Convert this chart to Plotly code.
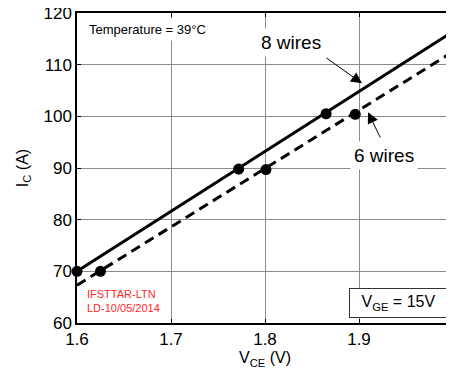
import plotly.graph_objects as go

# Measured points
vce_8 = [1.600, 1.772, 1.865]
ic_8 = [70.0, 89.8, 100.5]
vce_6 = [1.625, 1.801, 1.896]
ic_6 = [70.0, 89.7, 100.4]

# Linear fit lines (end points)
fit_x = [1.6, 2.0]
fit_8 = [70.0, 116.4]
fit_6 = [67.3, 112.5]

x_ticks = [1.6, 1.7, 1.8, 1.9, 2.0]
x_ticklabels = ["1.6", "1.7", "1.8", "1.9", "2"]
y_ticks = [60, 70, 80, 90, 100, 110, 120]

FONT = "Arial, 'Liberation Sans', sans-serif"

fig = go.Figure()
fig.add_trace(go.Scatter(x=fit_x, y=fit_8, mode="lines",
                         line=dict(color="black", width=3), showlegend=False, hoverinfo="skip"))
fig.add_trace(go.Scatter(x=fit_x, y=fit_6, mode="lines",
                         line=dict(color="black", width=3, dash="10px,6px"), showlegend=False, hoverinfo="skip"))
fig.add_trace(go.Scatter(x=vce_8, y=ic_8, mode="markers",
                         marker=dict(color="black", size=11), showlegend=False, cliponaxis=False))
fig.add_trace(go.Scatter(x=vce_6, y=ic_6, mode="markers",
                         marker=dict(color="black", size=11), showlegend=False, cliponaxis=False))

axis_common = dict(showline=True, linecolor="black", linewidth=1.5, mirror="ticks",
                   ticks="inside", ticklen=4, tickcolor="black",
                   showgrid=True, gridcolor="#8c8c8c", gridwidth=1, zeroline=False,
                   tickfont=dict(family=FONT, size=17, color="black"), automargin=False,
                   ticklabeloverflow="allow")

fig.update_xaxes(range=[1.6, 2.0], tickvals=x_ticks, ticktext=x_ticklabels,
                 title=dict(text="V<sub>CE</sub> (V)", font=dict(family=FONT, size=16, color="black"), standoff=3),
                 **axis_common)
fig.update_yaxes(range=[60, 120], tickvals=y_ticks,
                 title=dict(text="I<sub>C</sub> (A)", font=dict(family=FONT, size=16, color="black"), standoff=11),
                 **axis_common)

annotations = [
    dict(x=1.6755, y=116.8, text="Temperature = 39°C", showarrow=False,
         font=dict(family=FONT, size=13, color="black"), bgcolor="white", borderpad=3),
    dict(x=1.8277, y=114.3, text="8 wires", showarrow=False,
         font=dict(family=FONT, size=19, color="black"), bgcolor="white", borderpad=3),
    dict(x=1.9266, y=92.5, text="6 wires", showarrow=False,
         font=dict(family=FONT, size=19, color="black"), bgcolor="white", borderpad=3),
    dict(x=1.9032, y=106.4, ax=1.8638, ay=111.5, axref="x", ayref="y", text="",
         showarrow=True, arrowhead=2, arrowsize=2.2, arrowwidth=1, arrowcolor="black"),
    dict(x=1.9096, y=100.8, ax=1.9234, ay=95.6, axref="x", ayref="y", text="",
         showarrow=True, arrowhead=2, arrowsize=2.2, arrowwidth=1, arrowcolor="black"),
    dict(x=1.6085, y=64.2, text="IFSTTAR-LTN<br>LD-10/05/2014", showarrow=False,
         xanchor="left", align="left", font=dict(family=FONT, size=11, color="#ff2a2a")),
    dict(x=1.942, y=63.8, text="V<sub>GE</sub> = 15V", showarrow=False,
         font=dict(family=FONT, size=16, color="black"), bgcolor="white",
         bordercolor="#333333", borderwidth=1, width=95, height=26),
]
# The page body has an 8px default margin, so the figure is sized to fit the window.
fig.update_layout(annotations=annotations,
                  width=446, height=367,
                  margin=dict(l=69, r=1, t=5, b=52),
                  plot_bgcolor="white", paper_bgcolor="white",
                  font=dict(family=FONT, color="black"))

fig.write_html("out.html")
